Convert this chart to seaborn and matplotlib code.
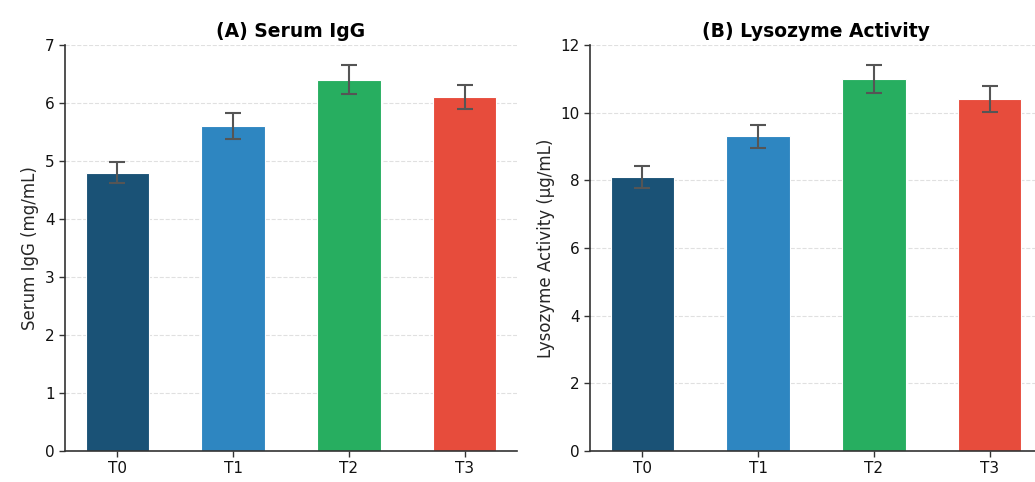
import numpy as np
import pandas as pd
import seaborn as sns
import matplotlib
matplotlib.use("Agg")
import matplotlib.pyplot as plt

# donnees
groups = ["T0", "T1", "T2", "T3"]
colors = ["#1a5276", "#2e86c1", "#27ae60", "#e74c3c"]

igg_mean = [4.8, 5.6, 6.4, 6.1]
igg_se = [0.18, 0.22, 0.25, 0.21]

lyso_mean = [8.1, 9.3, 11.0, 10.4]
lyso_se = [0.32, 0.35, 0.42, 0.38]

sns.set_style("white")
plt.rcParams['font.family'] = ['DejaVu Sans']
plt.rcParams['axes.edgecolor'] = '#333333'
plt.rcParams['text.color'] = '#111111'

fig = plt.figure(figsize=(10.35, 4.82), dpi=100)

# la figure d'origine est coupee a droite : le 2e panneau depasse le bord
ax1 = fig.add_axes([65 / 1035, 31 / 482, 452 / 1035, 406 / 482])
ax2 = fig.add_axes([590 / 1035, 31 / 482, 452 / 1035, 406 / 482])


def panel(ax, means, errs, title, ylabel, ymax, step):
    df = pd.DataFrame({"group": groups, "value": means})
    sns.barplot(data=df, x="group", y="value", hue="group", palette=colors,
                saturation=1, width=0.55, edgecolor="white", linewidth=0.8,
                legend=False, ax=ax)
    ax.errorbar(np.arange(len(groups)), means, yerr=errs, fmt="none",
                ecolor="#555555", elinewidth=1.5, capsize=5.5, capthick=1.5)
    ax.set_ylim(0, ymax)
    ax.set_yticks(np.arange(0, ymax + step / 2, step))
    ax.set_xlim(-0.4525, 3.4525)
    ax.set_title(title, fontsize=13.5, fontweight="bold", pad=6,
                 color="black")
    ax.set_xlabel("")
    ax.set_ylabel(ylabel, fontsize=12)
    ax.tick_params(axis="both", labelsize=11, length=4, width=1,
                   colors="#333333", labelcolor="#111111", bottom=True,
                   left=True)
    ax.yaxis.grid(True, linestyle="--", color="#cccccc", alpha=0.6)
    ax.set_axisbelow(True)
    sns.despine(ax=ax)
    for s in ["left", "bottom"]:
        ax.spines[s].set_linewidth(1.2)


panel(ax1, igg_mean, igg_se, "(A) Serum IgG", "Serum IgG (mg/mL)", 7, 1)
panel(ax2, lyso_mean, lyso_se, "(B) Lysozyme Activity",
      "Lysozyme Activity (μg/mL)", 12, 2)

plt.savefig("out.png", dpi=100)
